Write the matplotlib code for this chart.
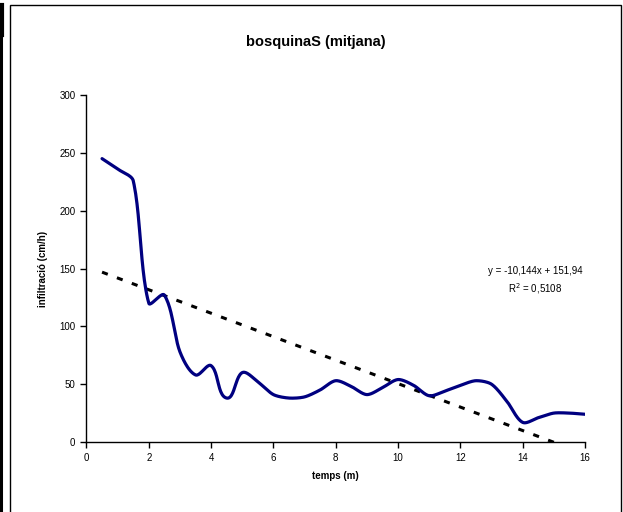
import numpy as np
import matplotlib
matplotlib.use("Agg")
import matplotlib.pyplot as plt
from matplotlib.patches import Rectangle
from matplotlib.lines import Line2D

plt.rcParams['font.family'] = ['Liberation Sans', 'DejaVu Sans']

# temps (m) i infiltració mitjana (cm/h)
temps = [0.5, 1.0, 1.5, 2.0, 2.5, 3.0, 3.5, 4.0, 4.5, 5.0, 5.5, 6.0, 6.5, 7.0, 7.5, 8.0,
         8.5, 9.0, 9.5, 10.0, 10.5, 11.0, 11.5, 12.0, 12.5, 13.0, 13.5, 14.0, 14.5, 15.0,
         15.5, 16.0]
infiltracio = [245, 236, 226, 120, 127, 78, 58, 66, 38, 60, 52, 41, 38, 39, 45, 53,
               48, 41, 47, 54, 49, 40, 44, 49, 53, 50, 35, 17, 21, 25, 25, 24]

# linia de tendencia
pendent = -10.144
ordenada = 151.94
r2 = 0.5108

x_ticks = [0, 2, 4, 6, 8, 10, 12, 14, 16]
y_ticks = [0, 50, 100, 150, 200, 250, 300]


def suavitzar(x, y, sx, sy, k=0.27, n=24):
    # corba de Bézier suau: punts de control en la direcció dels veïns,
    # amb llargada proporcional a cada tram (en coordenades de pantalla)
    p = np.column_stack([np.asarray(x, float) * sx, np.asarray(y, float) * sy])
    m = len(p)
    tang = np.zeros_like(p)
    for i in range(m):
        a = p[max(i - 1, 0)]
        b = p[min(i + 1, m - 1)]
        d = b - a
        tang[i] = d / np.hypot(*d)
    t = np.linspace(0, 1, n, endpoint=False)[:, None]
    trams = []
    for i in range(m - 1):
        L = np.hypot(*(p[i + 1] - p[i]))
        c0 = p[i] + tang[i] * L * k
        c1 = p[i + 1] - tang[i + 1] * L * k
        b = ((1 - t)**3 * p[i] + 3 * (1 - t)**2 * t * c0
             + 3 * (1 - t) * t**2 * c1 + t**3 * p[i + 1])
        trams.append(b)
    trams.append(p[-1:])
    q = np.concatenate(trams)
    return q[:, 0] / sx, q[:, 1] / sy


fig = plt.figure(figsize=(6.23, 5.12), dpi=100)
ax = fig.add_axes([0.1388, 0.1367, 0.8001, 0.6777])

ax.set_xlim(0, 16)
ax.set_ylim(0, 300)

# escala aproximada en píxels per unitat de cada eix
px_x = 0.8001 * 623 / 16
px_y = 0.6777 * 512 / 300
xs, ys = suavitzar(temps, infiltracio, px_x, px_y)
ax.plot(xs, ys, color='#000080', lw=2.3, solid_capstyle='round', zorder=3)

xt = np.array([temps[0], temps[-1]])
ax.plot(xt, pendent * xt + ordenada, color='black', lw=2.2,
        linestyle=(0, (2.0, 3.2)), dash_capstyle='butt', zorder=2)

ax.set_xticks(x_ticks)
ax.set_yticks(y_ticks)
ax.tick_params(labelsize=7, length=4, width=1, direction='out', pad=4)
for s in ['top', 'right']:
    ax.spines[s].set_visible(False)
for s in ['left', 'bottom']:
    ax.spines[s].set_linewidth(1)

ax.set_xlabel('temps (m)', fontsize=7, fontweight='bold', labelpad=6)
ax.set_ylabel('infiltració (cm/h)', fontsize=7, fontweight='bold', labelpad=8)

fig.text(0.507, 0.917, 'bosquinaS (mitjana)', ha='center', va='center',
         fontsize=10.5, fontweight='bold')

ax.text(14.4, 147.8, 'y = -10,144x + 151,94', ha='center', va='center', fontsize=7)
ax.text(14.4, 133, 'R$^2$ = 0,5108', ha='center', va='center', fontsize=7)

# marc del gràfic
fig.add_artist(Rectangle((10 / 623, -0.01), (621 - 10) / 623, (507 + 0.01 * 512) / 512,
                         transform=fig.transFigure, fill=False, edgecolor='black', lw=1))
fig.add_artist(Line2D([1 / 623, 1 / 623], [0, 1 - 5 / 512], transform=fig.transFigure,
                      color='black', lw=2.2))
fig.add_artist(Line2D([2 / 623, 2 / 623], [1 - 35 / 512, 1 - 5 / 512],
                      transform=fig.transFigure, color='black', lw=3))

fig.savefig('out.png', dpi=100)
